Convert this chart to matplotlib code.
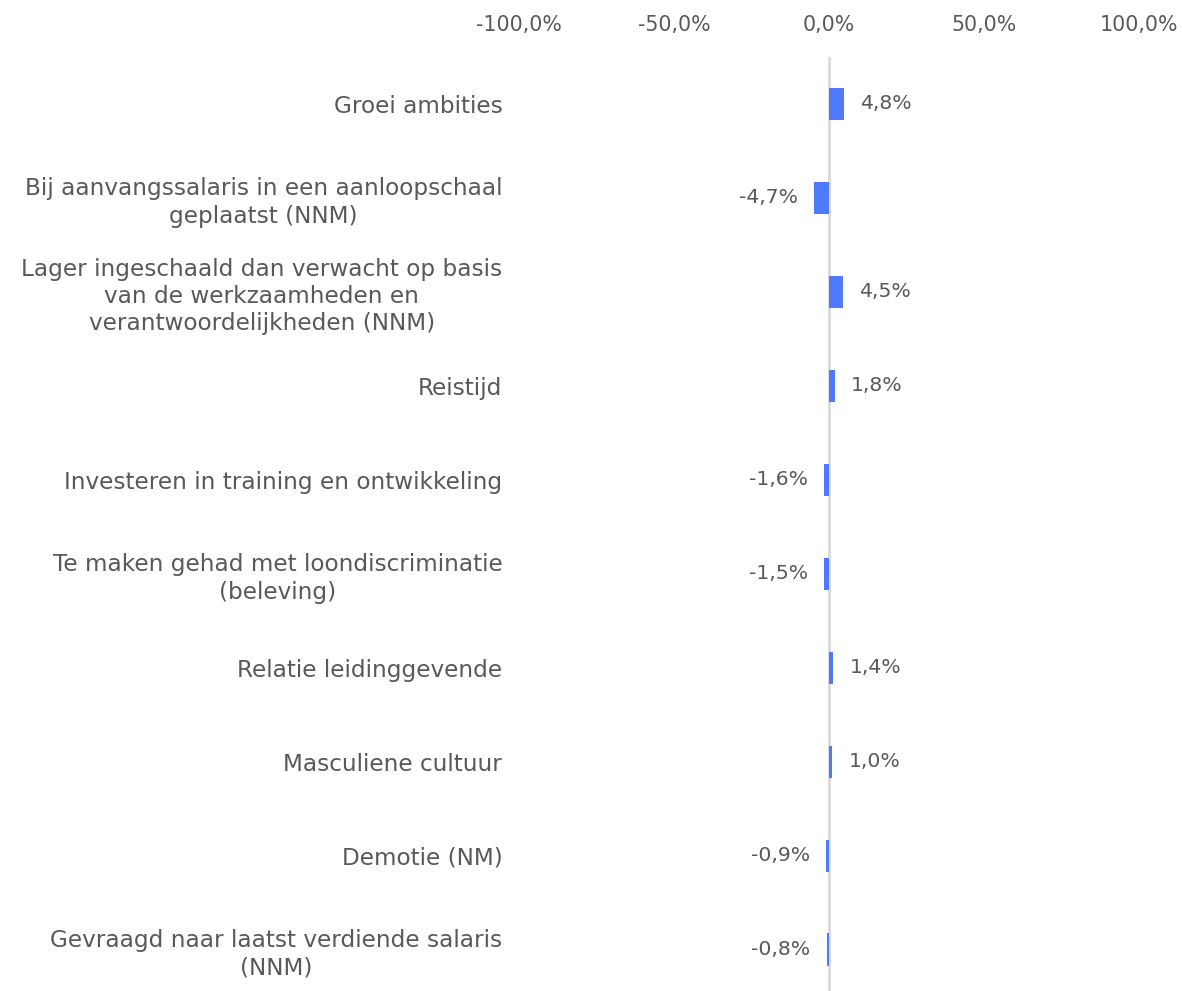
import matplotlib
matplotlib.use("Agg")
import matplotlib.pyplot as plt
from matplotlib.ticker import FuncFormatter

categories = [
    "Groei ambities",
    "Bij aanvangssalaris in een aanloopschaal\ngeplaatst (NNM)",
    "Lager ingeschaald dan verwacht op basis\nvan de werkzaamheden en\nverantwoordelijkheden (NNM)",
    "Reistijd",
    "Investeren in training en ontwikkeling",
    "Te maken gehad met loondiscriminatie\n(beleving)",
    "Relatie leidinggevende",
    "Masculiene cultuur",
    "Demotie (NM)",
    "Gevraagd naar laatst verdiende salaris\n(NNM)",
]
values = [4.8, -4.7, 4.5, 1.8, -1.6, -1.5, 1.4, 1.0, -0.9, -0.8]
xticks = [-100, -50, 0, 50, 100]

text_color = "#595959"
bar_color = "#4F79FF"
plt.rcParams['font.family'] = ['DejaVu Sans']

fig = plt.figure(figsize=(11.83, 9.91), dpi=100)
ax = fig.add_axes([519 / 1183, -0.006, 620 / 1183, 0.9485])

y = list(range(len(categories)))
ax.barh(y, values, height=0.35, color=bar_color, zorder=3)
ax.axvline(0, color="#D9D9D9", lw=2, zorder=2)

for yi, v in zip(y, values):
    lbl = f"{v:.1f}%".replace(".", ",")
    if v >= 0:
        ax.text(v + 5.3, yi, lbl, ha="left", va="center", fontsize=14.7, color=text_color)
    else:
        ax.text(v - 5.3, yi, lbl, ha="right", va="center", fontsize=14.7, color=text_color)

ax.set_xlim(-100, 100)
ax.set_ylim(len(categories) - 0.5, -0.5)
ax.set_xticks(xticks)
ax.xaxis.set_major_formatter(FuncFormatter(lambda x, p: f"{x:.1f}%".replace(".", ",")))
ax.xaxis.tick_top()
ax.tick_params(axis="x", length=0, pad=16, labelsize=14.8, labelcolor=text_color)
ax.set_yticks(y)
ax.set_yticklabels(categories, fontsize=16.7, color=text_color,
                   multialignment="center", linespacing=1.23)
ax.tick_params(axis="y", length=0, pad=12)
for s in ax.spines.values():
    s.set_visible(False)

fig.savefig("out.png", dpi=100)
